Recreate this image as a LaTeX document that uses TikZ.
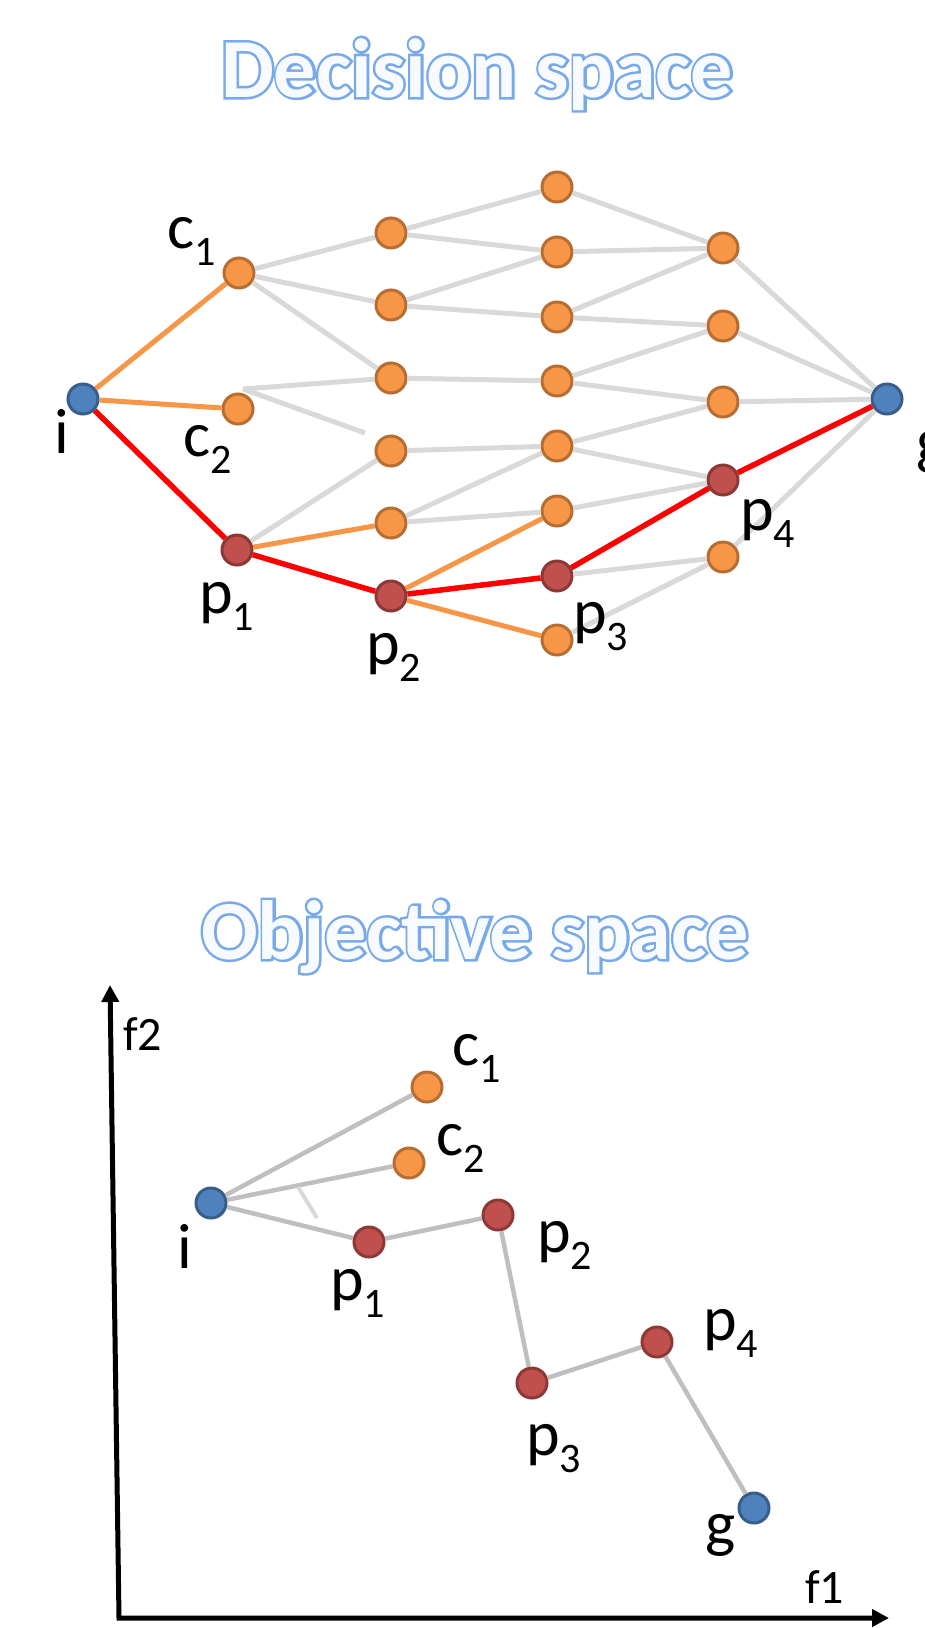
\documentclass[tikz,border=0pt]{standalone}
\usepackage{fontspec}
\setmainfont{Carlito}
\newfontfamily\glowfont[FakeBold=6]{Carlito Bold}
\newfontfamily\plainbold{Carlito Bold}
\usetikzlibrary{arrows.meta}
\definecolor{orf}{HTML}{F79646}
\definecolor{ord}{HTML}{B66D31}
\definecolor{rdf}{HTML}{C0504D}
\definecolor{rdd}{HTML}{8C3836}
\definecolor{blf}{HTML}{4F81BD}
\definecolor{bld}{HTML}{385D8A}
\definecolor{lgray}{HTML}{D9D9D9}
\definecolor{mgray}{HTML}{BFBFBF}
\definecolor{pathred}{HTML}{FF0000}
\definecolor{ttlblue}{HTML}{78AAEB}
\definecolor{ttlfill}{HTML}{F7FAFF}
\newcommand{\lbl}[2]{#1\raisebox{-0.27em}{\fontsize{42}{42}\selectfont #2}}
\tikzset{
  dot/.style={circle, minimum size=30pt, inner sep=0pt, line width=3pt},
  onode/.style={dot, fill=orf, draw=ord},
  rnode/.style={dot, fill=rdf, draw=rdd},
  bnode/.style={dot, fill=blf, draw=bld},
  gedge/.style={draw=lgray, line width=5pt},
  oedge/.style={draw=orf, line width=5pt},
  redge/.style={draw=pathred, line width=5.5pt},
  bedge/.style={draw=mgray, line width=4.5pt},
  lab/.style={anchor=base west, inner sep=0pt, font=\fontsize{64}{64}\selectfont},
  axlab/.style={anchor=base west, inner sep=0pt, font=\fontsize{48}{48}\selectfont},
  ttlglow/.style={anchor=base, inner sep=0pt, text=ttlblue, font=\glowfont\fontsize{84}{84}\selectfont},
  ttl/.style={anchor=base, inner sep=0pt, text=ttlfill, font=\plainbold\fontsize{84}{84}\selectfont},
  axisline/.style={line width=5pt, line join=miter, {Triangle[length=17pt,width=17pt]}-{Triangle[length=17pt,width=17pt]}}
}
\begin{document}
\begin{tikzpicture}[x=1pt,y=-1pt]
\useasboundingbox (0,0) rectangle (925,1628);
% ---------- titles ----------
\node[ttlglow] (t1g) at (477,97) {Decision space};
\node[ttl] (t1) at (477,97) {Decision space};
\node[ttlglow] (t2g) at (475,959) {Objective space};
\node[ttl] (t2) at (475,959) {Objective space};
% ---------- decision space nodes ----------
\node[bnode] (i) at (83,399) {};
\node[onode] (c1) at (239,273) {};
\node[onode] (c2) at (238,409) {};
\node[rnode] (p1) at (237,550) {};
\node[onode] (a1) at (391,233) {};
\node[onode] (a2) at (391,305) {};
\node[onode] (a3) at (391,378) {};
\node[onode] (a4) at (391,451) {};
\node[onode] (a5) at (391,523) {};
\node[rnode] (p2) at (391,596) {};
\node[onode] (b1) at (557,187) {};
\node[onode] (b2) at (557,252) {};
\node[onode] (b3) at (557,317) {};
\node[onode] (b4) at (557,381) {};
\node[onode] (b5) at (557,446) {};
\node[onode] (b6) at (557,511) {};
\node[rnode] (p3) at (557,576) {};
\node[onode] (b8) at (557,640) {};
\node[onode] (d1) at (723,248) {};
\node[onode] (d2) at (723,326) {};
\node[onode] (d3) at (723,402) {};
\node[rnode] (p4) at (723,480) {};
\node[onode] (d5) at (723,557) {};
\node[bnode] (g) at (887,399) {};
\coordinate (c2t) at (243,389);
\coordinate (c2s) at (365,433);
% edges
\path[oedge] (i) -- (c1);
\path[oedge] (i) -- (c2);
\path[redge] (i) -- (p1);
\path[gedge] (c1) -- (a1);
\path[gedge] (c1) -- (a2);
\path[gedge] (c1) -- (a3);
\path[gedge] (c2t) -- (a3);
\path[gedge] (c2t) -- (c2s);
\path[gedge] (p1) -- (a4);
\path[oedge] (p1) -- (a5);
\path[redge] (p1) -- (p2);
\path[gedge] (a1) -- (b1);
\path[gedge] (a1) -- (b2);
\path[gedge] (a2) -- (b2);
\path[gedge] (a2) -- (b3);
\path[gedge] (a3) -- (b4);
\path[gedge] (a4) -- (b5);
\path[gedge] (a5) -- (b5);
\path[gedge] (a5) -- (b6);
\path[oedge] (p2) -- (b6);
\path[redge] (p2) -- (p3);
\path[oedge] (p2) -- (b8);
\path[gedge] (b1) -- (d1);
\path[gedge] (b2) -- (d1);
\path[gedge] (b3) -- (d1);
\path[gedge] (b3) -- (d2);
\path[gedge] (b4) -- (d2);
\path[gedge] (b4) -- (d3);
\path[gedge] (b5) -- (d3);
\path[gedge] (b5) -- (p4);
\path[gedge] (b6) -- (p4);
\path[redge] (p3) -- (p4);
\path[gedge] (p3) -- (d5);
\path[gedge] (b8) -- (d5);
\path[gedge] (d1) -- (g);
\path[gedge] (d2) -- (g);
\path[gedge] (d3) -- (g);
\path[redge] (p4) -- (g);
\path[gedge] (d5) -- (g);
% labels
\node[lab] (lc1) at (167,248) {\lbl{c}{1}};
\node[lab] (lc2) at (183,456) {\lbl{c}{2}};
\node[lab] (li) at (54,453) {i};
\node[lab] (lp1) at (199,613) {\lbl{p}{1}};
\node[lab] (lp2) at (366,664) {\lbl{p}{2}};
\node[lab] (lp3) at (573,633) {\lbl{p}{3}};
\node[lab] (lp4) at (740,530) {\lbl{p}{4}};
\node[lab] (lg) at (916,462) {g};
% ---------- objective space ----------
\coordinate (O) at (119,1618);
\coordinate (ytop) at (110,985);
\coordinate (xend) at (889,1618);
\draw[axisline] (ytop) -- (O) -- (xend);
\node[axlab] (lf2) at (123,1050) {f2};
\node[axlab] (lf1) at (805,1603) {f1};
\node[onode] (oc1) at (427,1087) {};
\node[onode] (oc2) at (409,1163) {};
\node[bnode] (oi) at (211,1203) {};
\node[rnode] (op1) at (369,1242) {};
\node[rnode] (op2) at (498,1215) {};
\node[rnode] (op3) at (532,1383) {};
\node[rnode] (op4) at (657,1342) {};
\node[bnode] (og) at (754,1508) {};
\coordinate (tk1) at (298,1187);
\coordinate (tk2) at (317,1218);
\path[bedge] (oi) -- (oc1);
\path[bedge] (oi) -- (oc2);
\path[bedge] (oi) -- (op1);
\path[bedge] (op1) -- (op2);
\path[bedge] (op2) -- (op3);
\path[bedge] (op3) -- (op4);
\path[bedge] (op4) -- (og);
\path[draw=lgray, line width=4pt] (tk1) -- (tk2);
\node[lab] (loc1) at (452,1065) {\lbl{c}{1}};
\node[lab] (loc2) at (436,1155) {\lbl{c}{2}};
\node[lab] (loi) at (177,1268) {i};
\node[lab] (lop1) at (330,1300) {\lbl{p}{1}};
\node[lab] (lop2) at (537,1252) {\lbl{p}{2}};
\node[lab] (lop3) at (526,1455) {\lbl{p}{3}};
\node[lab] (lop4) at (703,1340) {\lbl{p}{4}};
\node[lab] (log) at (705,1545) {g};
\end{tikzpicture}
\end{document}
